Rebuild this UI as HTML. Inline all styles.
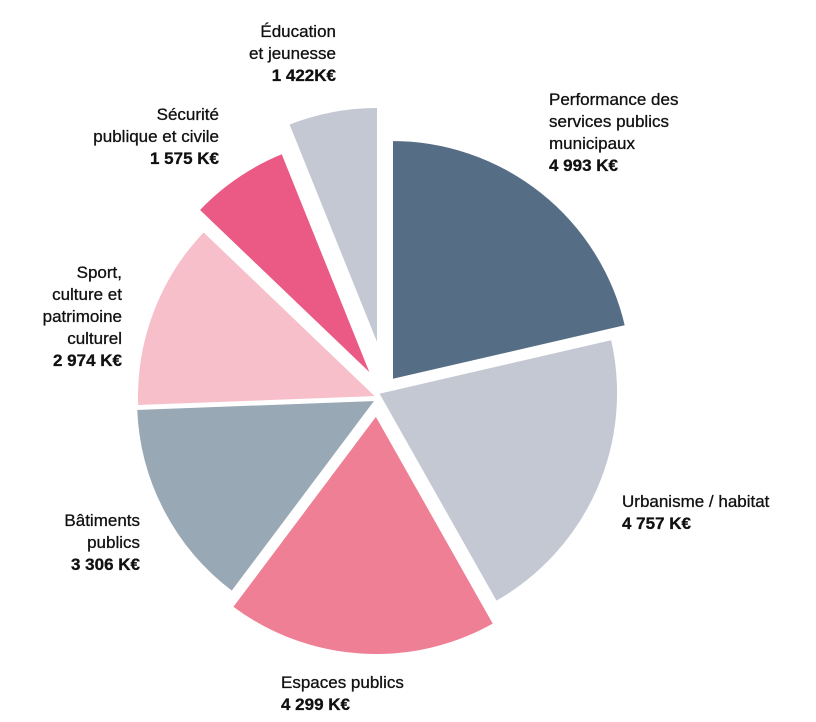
<!DOCTYPE html>
<html><head><meta charset="utf-8"><style>
body{margin:0;width:816px;height:722px;background:#fff;position:relative;overflow:hidden;font-family:"Liberation Sans",sans-serif;color:#111;}
.l{position:absolute;font-size:17px;line-height:22px;-webkit-text-stroke:0.3px #111;}
.r{text-align:right;}
b{font-weight:bold;}
</style></head><body>
<svg width="816" height="722" style="position:absolute;left:0;top:0">
<g stroke="#fff" stroke-width="2">
<path d="M392,380 L392,140 A240,240 0 0 1 625.9,326 Z" fill="#566e85"/>
<path d="M378,393 L611.9,339 A240,240 0 0 1 496.1,602 Z" fill="#c3c8d2"/>
<path d="M376,415 L494.1,624 A240,240 0 0 1 232,607 Z" fill="#ef7f95"/>
<path d="M376,400 L232,592 A240,240 0 0 1 136.2,409 Z" fill="#99a8b5"/>
<path d="M377,397 L137.2,406 A240,240 0 0 1 203.6,231 Z" fill="#f6bfca"/>
<path d="M372,376 L198.6,210 A240,240 0 0 1 282.3,153 Z" fill="#ea5a85"/>
<path d="M378,347 L288.3,124 A240,240 0 0 1 378,107 Z" fill="#c3c8d2"/>
</g></svg>
<div class="l r" style="right:480px;top:21px">Éducation<br>et jeunesse<br><b>1 422K€</b></div>
<div class="l r" style="right:597px;top:104px">Sécurité<br>publique et civile<br><b>1 575 K€</b></div>
<div class="l" style="left:549px;top:89px">Performance des<br>services publics<br>municipaux<br><b>4 993 K€</b></div>
<div class="l r" style="right:694px;top:262px">Sport,<br>culture et<br>patrimoine<br>culturel<br><b>2 974 K€</b></div>
<div class="l" style="left:622px;top:491px">Urbanisme / habitat<br><b>4 757 K€</b></div>
<div class="l r" style="right:676px;top:510px">Bâtiments<br>publics<br><b>3 306 K€</b></div>
<div class="l" style="left:281px;top:672px">Espaces publics<br><b>4 299 K€</b></div>
</body></html>
